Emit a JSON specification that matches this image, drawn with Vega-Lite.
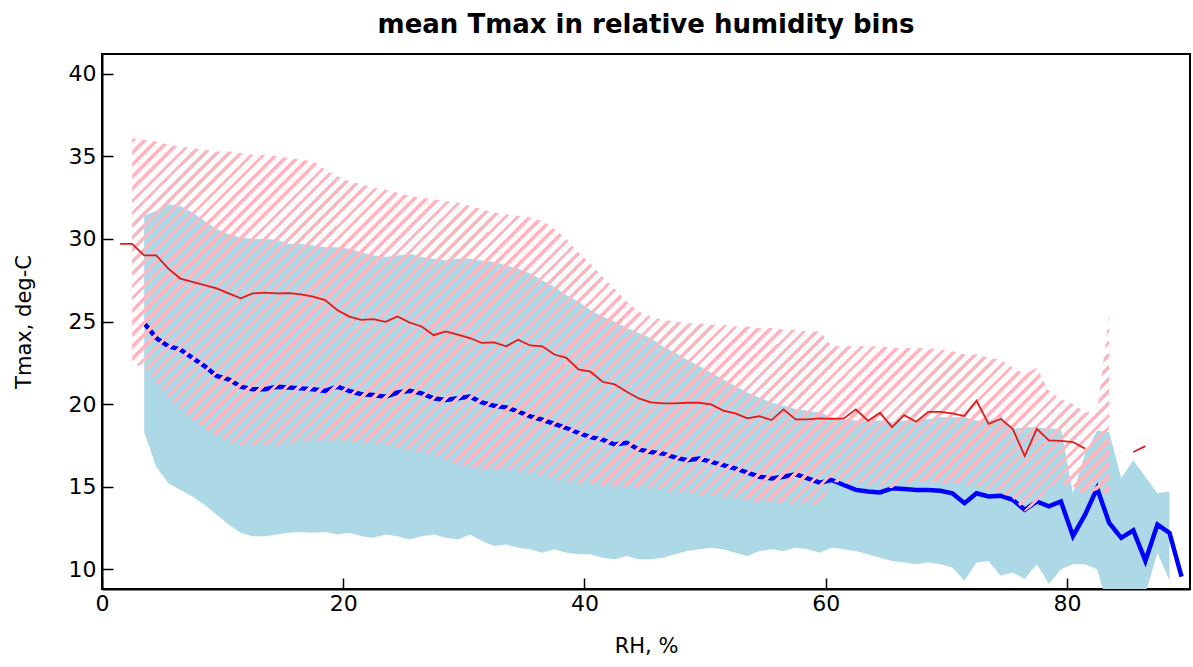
{
"$schema":"https://vega.github.io/schema/vega-lite/v6.json",
"width":1088,"height":535,
"autosize":{"type":"none"},
"padding":{"left":102,"top":54,"right":3,"bottom":78},
"background":"white",
"title":{"text":"mean Tmax in relative humidity bins","fontSize":26,"font":"DejaVu Sans","fontWeight":"bold","color":"black","anchor":"middle","offset":16},
"config":{"font":"DejaVu Sans","view":{"stroke":"black","strokeWidth":2},"axis":{"grid":false}},
"data":{"values":[
{"x":1.5,"rm":29.7,"rlo":null,"rhi":null,"bm":null,"blo":null,"bhi":null},
{"x":2.5,"rm":29.7,"rlo":22.4,"rhi":36.1,"bm":null,"blo":null,"bhi":null},
{"x":3.5,"rm":29.0,"rlo":22.3,"rhi":36.0,"bm":24.9,"blo":18.3,"bhi":31.4},
{"x":4.5,"rm":29.0,"rlo":21.3,"rhi":35.9,"bm":24.0,"blo":16.2,"bhi":31.7},
{"x":5.5,"rm":28.2,"rlo":20.4,"rhi":35.7,"bm":23.5,"blo":15.2,"bhi":32.1},
{"x":6.5,"rm":27.6,"rlo":19.7,"rhi":35.6,"bm":23.3,"blo":14.8,"bhi":32.0},
{"x":7.5,"rm":27.4,"rlo":19.1,"rhi":35.5,"bm":22.8,"blo":14.4,"bhi":31.6},
{"x":8.5,"rm":27.2,"rlo":18.5,"rhi":35.4,"bm":22.3,"blo":13.9,"bhi":31.1},
{"x":9.5,"rm":27.0,"rlo":18.1,"rhi":35.3,"bm":21.7,"blo":13.3,"bhi":30.6},
{"x":10.5,"rm":26.7,"rlo":17.7,"rhi":35.3,"bm":21.5,"blo":12.7,"bhi":30.3},
{"x":11.5,"rm":26.4,"rlo":17.5,"rhi":35.2,"bm":21.05,"blo":12.2,"bhi":30.1},
{"x":12.5,"rm":26.7,"rlo":17.5,"rhi":35.1,"bm":20.9,"blo":12.0,"bhi":30.0},
{"x":13.5,"rm":26.75,"rlo":17.5,"rhi":35.1,"bm":20.9,"blo":12.0,"bhi":30.0},
{"x":14.5,"rm":26.7,"rlo":17.5,"rhi":35.0,"bm":21.05,"blo":12.1,"bhi":29.95},
{"x":15.5,"rm":26.72,"rlo":17.6,"rhi":34.9,"bm":21.0,"blo":12.2,"bhi":29.7},
{"x":16.5,"rm":26.64,"rlo":17.7,"rhi":34.8,"bm":20.95,"blo":12.25,"bhi":29.7},
{"x":17.5,"rm":26.5,"rlo":17.8,"rhi":34.7,"bm":20.9,"blo":12.2,"bhi":29.6},
{"x":18.5,"rm":26.3,"rlo":17.8,"rhi":34.2,"bm":20.8,"blo":12.25,"bhi":29.5},
{"x":19.5,"rm":25.7,"rlo":17.8,"rhi":33.8,"bm":21.05,"blo":12.1,"bhi":29.5},
{"x":20.5,"rm":25.3,"rlo":17.8,"rhi":33.5,"bm":20.8,"blo":12.2,"bhi":29.4},
{"x":21.5,"rm":25.1,"rlo":17.7,"rhi":33.3,"bm":20.6,"blo":12.0,"bhi":29.2},
{"x":22.5,"rm":25.14,"rlo":17.6,"rhi":33.1,"bm":20.55,"blo":11.9,"bhi":29.0},
{"x":23.5,"rm":24.98,"rlo":17.5,"rhi":33.0,"bm":20.45,"blo":12.1,"bhi":28.9},
{"x":24.5,"rm":25.3,"rlo":17.4,"rhi":32.8,"bm":20.7,"blo":12.0,"bhi":29.0},
{"x":25.5,"rm":24.94,"rlo":17.2,"rhi":32.6,"bm":20.8,"blo":11.8,"bhi":29.1},
{"x":26.5,"rm":24.7,"rlo":17.1,"rhi":32.5,"bm":20.65,"blo":12.0,"bhi":28.9},
{"x":27.5,"rm":24.17,"rlo":16.9,"rhi":32.4,"bm":20.35,"blo":12.1,"bhi":28.8},
{"x":28.5,"rm":24.4,"rlo":16.6,"rhi":32.3,"bm":20.25,"blo":11.9,"bhi":28.7},
{"x":29.5,"rm":24.2,"rlo":16.4,"rhi":32.2,"bm":20.35,"blo":11.8,"bhi":28.8},
{"x":30.5,"rm":24.0,"rlo":16.2,"rhi":32.0,"bm":20.45,"blo":12.1,"bhi":28.8},
{"x":31.5,"rm":23.7,"rlo":16.1,"rhi":31.8,"bm":20.1,"blo":11.7,"bhi":28.7},
{"x":32.5,"rm":23.73,"rlo":16.0,"rhi":31.6,"bm":19.9,"blo":11.4,"bhi":28.6},
{"x":33.5,"rm":23.5,"rlo":16.0,"rhi":31.5,"bm":19.8,"blo":11.5,"bhi":28.4},
{"x":34.5,"rm":23.9,"rlo":15.9,"rhi":31.4,"bm":19.55,"blo":11.3,"bhi":28.2},
{"x":35.5,"rm":23.55,"rlo":15.8,"rhi":31.3,"bm":19.25,"blo":11.2,"bhi":27.9},
{"x":36.5,"rm":23.5,"rlo":15.6,"rhi":31.1,"bm":19.05,"blo":11.0,"bhi":27.5},
{"x":37.5,"rm":23.0,"rlo":15.4,"rhi":30.6,"bm":18.8,"blo":11.2,"bhi":27.1},
{"x":38.5,"rm":22.8,"rlo":15.3,"rhi":30.0,"bm":18.55,"blo":11.0,"bhi":26.6},
{"x":39.5,"rm":22.1,"rlo":15.2,"rhi":29.2,"bm":18.25,"blo":10.9,"bhi":26.2},
{"x":40.5,"rm":21.96,"rlo":15.2,"rhi":28.5,"bm":18.0,"blo":10.9,"bhi":25.7},
{"x":41.5,"rm":21.35,"rlo":15.1,"rhi":27.7,"bm":17.85,"blo":10.7,"bhi":25.3},
{"x":42.5,"rm":21.2,"rlo":15.0,"rhi":27.0,"bm":17.55,"blo":10.6,"bhi":25.0},
{"x":43.5,"rm":20.75,"rlo":15.0,"rhi":26.2,"bm":17.65,"blo":10.8,"bhi":24.6},
{"x":44.5,"rm":20.34,"rlo":14.9,"rhi":25.6,"bm":17.25,"blo":10.6,"bhi":24.3},
{"x":45.5,"rm":20.1,"rlo":14.9,"rhi":25.3,"bm":17.1,"blo":10.6,"bhi":24.0},
{"x":46.5,"rm":20.04,"rlo":14.8,"rhi":25.1,"bm":17.0,"blo":10.7,"bhi":23.5},
{"x":47.5,"rm":20.04,"rlo":14.7,"rhi":25.0,"bm":16.77,"blo":10.9,"bhi":23.1},
{"x":48.5,"rm":20.08,"rlo":14.6,"rhi":24.9,"bm":16.6,"blo":11.1,"bhi":22.7},
{"x":49.5,"rm":20.08,"rlo":14.5,"rhi":24.9,"bm":16.7,"blo":11.2,"bhi":22.3},
{"x":50.5,"rm":19.98,"rlo":14.5,"rhi":24.8,"bm":16.5,"blo":11.3,"bhi":21.9},
{"x":51.5,"rm":19.6,"rlo":14.4,"rhi":24.8,"bm":16.3,"blo":11.2,"bhi":21.5},
{"x":52.5,"rm":19.44,"rlo":14.3,"rhi":24.7,"bm":16.1,"blo":11.0,"bhi":21.1},
{"x":53.5,"rm":19.13,"rlo":14.2,"rhi":24.7,"bm":15.85,"blo":10.8,"bhi":20.7},
{"x":54.5,"rm":19.27,"rlo":14.1,"rhi":24.6,"bm":15.6,"blo":11.1,"bhi":20.4},
{"x":55.5,"rm":19.03,"rlo":14.1,"rhi":24.6,"bm":15.5,"blo":11.2,"bhi":20.1},
{"x":56.5,"rm":19.68,"rlo":14.0,"rhi":24.5,"bm":15.6,"blo":11.1,"bhi":19.9},
{"x":57.5,"rm":19.07,"rlo":14.0,"rhi":24.5,"bm":15.75,"blo":11.3,"bhi":19.7},
{"x":58.5,"rm":19.07,"rlo":13.9,"rhi":24.4,"bm":15.5,"blo":11.2,"bhi":19.6},
{"x":59.5,"rm":19.13,"rlo":13.9,"rhi":24.4,"bm":15.24,"blo":11.0,"bhi":19.5},
{"x":60.5,"rm":19.1,"rlo":15.3,"rhi":23.5,"bm":15.4,"blo":11.3,"bhi":19.2},
{"x":61.5,"rm":19.13,"rlo":15.2,"rhi":23.5,"bm":15.1,"blo":11.2,"bhi":19.1},
{"x":62.5,"rm":19.68,"rlo":15.2,"rhi":23.5,"bm":14.8,"blo":11.1,"bhi":19.0},
{"x":63.5,"rm":18.99,"rlo":15.1,"rhi":23.5,"bm":14.7,"blo":10.9,"bhi":19.0},
{"x":64.5,"rm":19.47,"rlo":15.0,"rhi":23.5,"bm":14.65,"blo":10.7,"bhi":19.0},
{"x":65.5,"rm":18.6,"rlo":14.9,"rhi":23.4,"bm":14.9,"blo":10.5,"bhi":18.9},
{"x":66.5,"rm":19.33,"rlo":15.2,"rhi":23.4,"bm":14.85,"blo":10.4,"bhi":19.0},
{"x":67.5,"rm":18.93,"rlo":15.3,"rhi":23.4,"bm":14.8,"blo":10.3,"bhi":19.0},
{"x":68.5,"rm":19.53,"rlo":15.3,"rhi":23.4,"bm":14.8,"blo":10.4,"bhi":19.1},
{"x":69.5,"rm":19.53,"rlo":15.2,"rhi":23.3,"bm":14.75,"blo":10.3,"bhi":19.2},
{"x":70.5,"rm":19.43,"rlo":15.2,"rhi":23.2,"bm":14.6,"blo":10.1,"bhi":19.2},
{"x":71.5,"rm":19.27,"rlo":15.1,"rhi":23.0,"bm":14.0,"blo":9.3,"bhi":19.2},
{"x":72.5,"rm":20.2,"rlo":15.0,"rhi":23.0,"bm":14.6,"blo":10.4,"bhi":19.0},
{"x":73.5,"rm":18.8,"rlo":14.8,"rhi":22.8,"bm":14.4,"blo":10.5,"bhi":19.0},
{"x":74.5,"rm":19.1,"rlo":14.6,"rhi":22.7,"bm":14.45,"blo":9.6,"bhi":19.3},
{"x":75.5,"rm":18.5,"rlo":14.3,"rhi":22.2,"bm":14.2,"blo":9.8,"bhi":18.5},
{"x":76.5,"rm":16.85,"rlo":13.5,"rhi":21.8,"bm":13.6,"blo":9.4,"bhi":18.6},
{"x":77.5,"rm":18.5,"rlo":14.0,"rhi":22.2,"bm":14.1,"blo":10.3,"bhi":18.6},
{"x":78.5,"rm":17.8,"rlo":15.0,"rhi":20.8,"bm":13.8,"blo":9.1,"bhi":18.5},
{"x":79.5,"rm":17.77,"rlo":15.2,"rhi":20.3,"bm":14.1,"blo":10.0,"bhi":18.5},
{"x":80.5,"rm":17.7,"rlo":15.0,"rhi":20.0,"bm":12.0,"blo":10.3,"bhi":14.6},
{"x":81.5,"rm":17.3,"rlo":14.5,"rhi":19.5,"bm":13.3,"blo":10.3,"bhi":17.0},
{"x":82.5,"rm":null,"rlo":14.8,"rhi":19.5,"bm":14.9,"blo":10.0,"bhi":18.4},
{"x":83.5,"rm":null,"rlo":14.5,"rhi":25.5,"bm":12.8,"blo":7.5,"bhi":18.3},
{"x":84.5,"rm":null,"rlo":null,"rhi":null,"bm":11.9,"blo":7.0,"bhi":15.5},
{"x":85.5,"rm":17.1,"rlo":null,"rhi":null,"bm":12.35,"blo":7.0,"bhi":16.6},
{"x":86.5,"rm":17.45,"rlo":null,"rhi":null,"bm":10.5,"blo":8.5,"bhi":15.6},
{"x":87.5,"rm":null,"rlo":null,"rhi":null,"bm":12.7,"blo":11.0,"bhi":14.6},
{"x":88.5,"rm":null,"rlo":null,"rhi":null,"bm":12.2,"blo":9.3,"bhi":14.7},
{"x":89.5,"rm":null,"rlo":null,"rhi":null,"bm":9.55,"blo":null,"bhi":null}
]},
"encoding":{
"x":{"field":"x","type":"quantitative","scale":{"domain":[0,90.2],"nice":false,"zero":false},
"axis":{"title":"RH, %","values":[0,20,40,60,80],"tickSize":-11,"tickWidth":1.5,"tickColor":"black","domainColor":"black","domainWidth":2,"labelFont":"DejaVu Sans","labelFontSize":22,"labelColor":"black","labelPadding":15,"labelFlush":false,"labelOverlap":false,"titleFont":"DejaVu Sans","titleFontSize":21,"titleFontWeight":"normal","titleColor":"black","titlePadding":21}}
},
"layer":[
{"mark":{"type":"area","color":"#ADD8E6","clip":true,"invalid":"break-paths-show-domains"},
 "encoding":{"y":{"field":"bhi","type":"quantitative","scale":{"domain":[8.8,41.2],"nice":false,"zero":false},
 "axis":{"title":"Tmax, deg-C","values":[10,15,20,25,30,35,40],"tickSize":-11,"tickWidth":1.5,"tickColor":"black","domainColor":"black","domainWidth":2,"labelFont":"DejaVu Sans","labelFontSize":22,"labelColor":"black","labelPadding":17,"labelFlush":false,"labelOverlap":false,"titleFont":"DejaVu Sans","titleFontSize":21,"titleFontWeight":"normal","titleColor":"black","titlePadding":34}},
 "y2":{"field":"blo"}}},
{"mark":{"type":"line","color":"blue","strokeWidth":4.5,"clip":true,"invalid":"break-paths-show-domains"},
 "encoding":{"y":{"field":"bm","type":"quantitative"}}},
{"mark":{"type":"area","clip":true,"invalid":"break-paths-show-domains","color":{"gradient":"linear","x1":0,"y1":0,"x2":1.206,"y2":0.461,"stops":[
{"offset":0,"color":"transparent"},{"offset":0,"color":"#ffb6c1"},{"offset":0.0035,"color":"#ffb6c1"},{"offset":0.0035,"color":"transparent"},
{"offset":0.009,"color":"transparent"},{"offset":0.009,"color":"#ffb6c1"},{"offset":0.0125,"color":"#ffb6c1"},{"offset":0.0125,"color":"transparent"},
{"offset":0.018,"color":"transparent"},{"offset":0.018,"color":"#ffb6c1"},{"offset":0.0215,"color":"#ffb6c1"},{"offset":0.0215,"color":"transparent"},
{"offset":0.027,"color":"transparent"},{"offset":0.027,"color":"#ffb6c1"},{"offset":0.0305,"color":"#ffb6c1"},{"offset":0.0305,"color":"transparent"},
{"offset":0.036,"color":"transparent"},{"offset":0.036,"color":"#ffb6c1"},{"offset":0.0395,"color":"#ffb6c1"},{"offset":0.0395,"color":"transparent"},
{"offset":0.045,"color":"transparent"},{"offset":0.045,"color":"#ffb6c1"},{"offset":0.0485,"color":"#ffb6c1"},{"offset":0.0485,"color":"transparent"},
{"offset":0.054,"color":"transparent"},{"offset":0.054,"color":"#ffb6c1"},{"offset":0.0575,"color":"#ffb6c1"},{"offset":0.0575,"color":"transparent"},
{"offset":0.063,"color":"transparent"},{"offset":0.063,"color":"#ffb6c1"},{"offset":0.0665,"color":"#ffb6c1"},{"offset":0.0665,"color":"transparent"},
{"offset":0.072,"color":"transparent"},{"offset":0.072,"color":"#ffb6c1"},{"offset":0.0755,"color":"#ffb6c1"},{"offset":0.0755,"color":"transparent"},
{"offset":0.081,"color":"transparent"},{"offset":0.081,"color":"#ffb6c1"},{"offset":0.0845,"color":"#ffb6c1"},{"offset":0.0845,"color":"transparent"},
{"offset":0.09,"color":"transparent"},{"offset":0.09,"color":"#ffb6c1"},{"offset":0.0935,"color":"#ffb6c1"},{"offset":0.0935,"color":"transparent"},
{"offset":0.099,"color":"transparent"},{"offset":0.099,"color":"#ffb6c1"},{"offset":0.1025,"color":"#ffb6c1"},{"offset":0.1025,"color":"transparent"},
{"offset":0.108,"color":"transparent"},{"offset":0.108,"color":"#ffb6c1"},{"offset":0.1115,"color":"#ffb6c1"},{"offset":0.1115,"color":"transparent"},
{"offset":0.117,"color":"transparent"},{"offset":0.117,"color":"#ffb6c1"},{"offset":0.1205,"color":"#ffb6c1"},{"offset":0.1205,"color":"transparent"},
{"offset":0.126,"color":"transparent"},{"offset":0.126,"color":"#ffb6c1"},{"offset":0.1295,"color":"#ffb6c1"},{"offset":0.1295,"color":"transparent"},
{"offset":0.135,"color":"transparent"},{"offset":0.135,"color":"#ffb6c1"},{"offset":0.1385,"color":"#ffb6c1"},{"offset":0.1385,"color":"transparent"},
{"offset":0.144,"color":"transparent"},{"offset":0.144,"color":"#ffb6c1"},{"offset":0.1475,"color":"#ffb6c1"},{"offset":0.1475,"color":"transparent"},
{"offset":0.153,"color":"transparent"},{"offset":0.153,"color":"#ffb6c1"},{"offset":0.1565,"color":"#ffb6c1"},{"offset":0.1565,"color":"transparent"},
{"offset":0.162,"color":"transparent"},{"offset":0.162,"color":"#ffb6c1"},{"offset":0.1655,"color":"#ffb6c1"},{"offset":0.1655,"color":"transparent"},
{"offset":0.171,"color":"transparent"},{"offset":0.171,"color":"#ffb6c1"},{"offset":0.1745,"color":"#ffb6c1"},{"offset":0.1745,"color":"transparent"},
{"offset":0.18,"color":"transparent"},{"offset":0.18,"color":"#ffb6c1"},{"offset":0.1835,"color":"#ffb6c1"},{"offset":0.1835,"color":"transparent"},
{"offset":0.189,"color":"transparent"},{"offset":0.189,"color":"#ffb6c1"},{"offset":0.1925,"color":"#ffb6c1"},{"offset":0.1925,"color":"transparent"},
{"offset":0.198,"color":"transparent"},{"offset":0.198,"color":"#ffb6c1"},{"offset":0.2015,"color":"#ffb6c1"},{"offset":0.2015,"color":"transparent"},
{"offset":0.207,"color":"transparent"},{"offset":0.207,"color":"#ffb6c1"},{"offset":0.2105,"color":"#ffb6c1"},{"offset":0.2105,"color":"transparent"},
{"offset":0.216,"color":"transparent"},{"offset":0.216,"color":"#ffb6c1"},{"offset":0.2195,"color":"#ffb6c1"},{"offset":0.2195,"color":"transparent"},
{"offset":0.225,"color":"transparent"},{"offset":0.225,"color":"#ffb6c1"},{"offset":0.2285,"color":"#ffb6c1"},{"offset":0.2285,"color":"transparent"},
{"offset":0.234,"color":"transparent"},{"offset":0.234,"color":"#ffb6c1"},{"offset":0.2375,"color":"#ffb6c1"},{"offset":0.2375,"color":"transparent"},
{"offset":0.243,"color":"transparent"},{"offset":0.243,"color":"#ffb6c1"},{"offset":0.2465,"color":"#ffb6c1"},{"offset":0.2465,"color":"transparent"},
{"offset":0.252,"color":"transparent"},{"offset":0.252,"color":"#ffb6c1"},{"offset":0.2555,"color":"#ffb6c1"},{"offset":0.2555,"color":"transparent"},
{"offset":0.261,"color":"transparent"},{"offset":0.261,"color":"#ffb6c1"},{"offset":0.2645,"color":"#ffb6c1"},{"offset":0.2645,"color":"transparent"},
{"offset":0.27,"color":"transparent"},{"offset":0.27,"color":"#ffb6c1"},{"offset":0.2735,"color":"#ffb6c1"},{"offset":0.2735,"color":"transparent"},
{"offset":0.279,"color":"transparent"},{"offset":0.279,"color":"#ffb6c1"},{"offset":0.2825,"color":"#ffb6c1"},{"offset":0.2825,"color":"transparent"},
{"offset":0.288,"color":"transparent"},{"offset":0.288,"color":"#ffb6c1"},{"offset":0.2915,"color":"#ffb6c1"},{"offset":0.2915,"color":"transparent"},
{"offset":0.297,"color":"transparent"},{"offset":0.297,"color":"#ffb6c1"},{"offset":0.3005,"color":"#ffb6c1"},{"offset":0.3005,"color":"transparent"},
{"offset":0.306,"color":"transparent"},{"offset":0.306,"color":"#ffb6c1"},{"offset":0.3095,"color":"#ffb6c1"},{"offset":0.3095,"color":"transparent"},
{"offset":0.315,"color":"transparent"},{"offset":0.315,"color":"#ffb6c1"},{"offset":0.3185,"color":"#ffb6c1"},{"offset":0.3185,"color":"transparent"},
{"offset":0.324,"color":"transparent"},{"offset":0.324,"color":"#ffb6c1"},{"offset":0.3275,"color":"#ffb6c1"},{"offset":0.3275,"color":"transparent"},
{"offset":0.333,"color":"transparent"},{"offset":0.333,"color":"#ffb6c1"},{"offset":0.3365,"color":"#ffb6c1"},{"offset":0.3365,"color":"transparent"},
{"offset":0.342,"color":"transparent"},{"offset":0.342,"color":"#ffb6c1"},{"offset":0.3455,"color":"#ffb6c1"},{"offset":0.3455,"color":"transparent"},
{"offset":0.351,"color":"transparent"},{"offset":0.351,"color":"#ffb6c1"},{"offset":0.3545,"color":"#ffb6c1"},{"offset":0.3545,"color":"transparent"},
{"offset":0.36,"color":"transparent"},{"offset":0.36,"color":"#ffb6c1"},{"offset":0.3635,"color":"#ffb6c1"},{"offset":0.3635,"color":"transparent"},
{"offset":0.369,"color":"transparent"},{"offset":0.369,"color":"#ffb6c1"},{"offset":0.3725,"color":"#ffb6c1"},{"offset":0.3725,"color":"transparent"},
{"offset":0.378,"color":"transparent"},{"offset":0.378,"color":"#ffb6c1"},{"offset":0.3815,"color":"#ffb6c1"},{"offset":0.3815,"color":"transparent"},
{"offset":0.387,"color":"transparent"},{"offset":0.387,"color":"#ffb6c1"},{"offset":0.3905,"color":"#ffb6c1"},{"offset":0.3905,"color":"transparent"},
{"offset":0.396,"color":"transparent"},{"offset":0.396,"color":"#ffb6c1"},{"offset":0.3995,"color":"#ffb6c1"},{"offset":0.3995,"color":"transparent"},
{"offset":0.405,"color":"transparent"},{"offset":0.405,"color":"#ffb6c1"},{"offset":0.4085,"color":"#ffb6c1"},{"offset":0.4085,"color":"transparent"},
{"offset":0.414,"color":"transparent"},{"offset":0.414,"color":"#ffb6c1"},{"offset":0.4175,"color":"#ffb6c1"},{"offset":0.4175,"color":"transparent"},
{"offset":0.423,"color":"transparent"},{"offset":0.423,"color":"#ffb6c1"},{"offset":0.4265,"color":"#ffb6c1"},{"offset":0.4265,"color":"transparent"},
{"offset":0.432,"color":"transparent"},{"offset":0.432,"color":"#ffb6c1"},{"offset":0.4355,"color":"#ffb6c1"},{"offset":0.4355,"color":"transparent"},
{"offset":0.441,"color":"transparent"},{"offset":0.441,"color":"#ffb6c1"},{"offset":0.4445,"color":"#ffb6c1"},{"offset":0.4445,"color":"transparent"},
{"offset":0.45,"color":"transparent"},{"offset":0.45,"color":"#ffb6c1"},{"offset":0.4535,"color":"#ffb6c1"},{"offset":0.4535,"color":"transparent"},
{"offset":0.459,"color":"transparent"},{"offset":0.459,"color":"#ffb6c1"},{"offset":0.4625,"color":"#ffb6c1"},{"offset":0.4625,"color":"transparent"},
{"offset":0.468,"color":"transparent"},{"offset":0.468,"color":"#ffb6c1"},{"offset":0.4715,"color":"#ffb6c1"},{"offset":0.4715,"color":"transparent"},
{"offset":0.477,"color":"transparent"},{"offset":0.477,"color":"#ffb6c1"},{"offset":0.4805,"color":"#ffb6c1"},{"offset":0.4805,"color":"transparent"},
{"offset":0.486,"color":"transparent"},{"offset":0.486,"color":"#ffb6c1"},{"offset":0.4895,"color":"#ffb6c1"},{"offset":0.4895,"color":"transparent"},
{"offset":0.495,"color":"transparent"},{"offset":0.495,"color":"#ffb6c1"},{"offset":0.4985,"color":"#ffb6c1"},{"offset":0.4985,"color":"transparent"},
{"offset":0.504,"color":"transparent"},{"offset":0.504,"color":"#ffb6c1"},{"offset":0.5075,"color":"#ffb6c1"},{"offset":0.5075,"color":"transparent"},
{"offset":0.513,"color":"transparent"},{"offset":0.513,"color":"#ffb6c1"},{"offset":0.5165,"color":"#ffb6c1"},{"offset":0.5165,"color":"transparent"},
{"offset":0.522,"color":"transparent"},{"offset":0.522,"color":"#ffb6c1"},{"offset":0.5255,"color":"#ffb6c1"},{"offset":0.5255,"color":"transparent"},
{"offset":0.531,"color":"transparent"},{"offset":0.531,"color":"#ffb6c1"},{"offset":0.5345,"color":"#ffb6c1"},{"offset":0.5345,"color":"transparent"},
{"offset":0.54,"color":"transparent"},{"offset":0.54,"color":"#ffb6c1"},{"offset":0.5435,"color":"#ffb6c1"},{"offset":0.5435,"color":"transparent"},
{"offset":0.549,"color":"transparent"},{"offset":0.549,"color":"#ffb6c1"},{"offset":0.5525,"color":"#ffb6c1"},{"offset":0.5525,"color":"transparent"},
{"offset":0.558,"color":"transparent"},{"offset":0.558,"color":"#ffb6c1"},{"offset":0.5615,"color":"#ffb6c1"},{"offset":0.5615,"color":"transparent"},
{"offset":0.567,"color":"transparent"},{"offset":0.567,"color":"#ffb6c1"},{"offset":0.5705,"color":"#ffb6c1"},{"offset":0.5705,"color":"transparent"},
{"offset":0.576,"color":"transparent"},{"offset":0.576,"color":"#ffb6c1"},{"offset":0.5795,"color":"#ffb6c1"},{"offset":0.5795,"color":"transparent"},
{"offset":0.585,"color":"transparent"},{"offset":0.585,"color":"#ffb6c1"},{"offset":0.5885,"color":"#ffb6c1"},{"offset":0.5885,"color":"transparent"},
{"offset":0.594,"color":"transparent"},{"offset":0.594,"color":"#ffb6c1"},{"offset":0.5975,"color":"#ffb6c1"},{"offset":0.5975,"color":"transparent"},
{"offset":0.603,"color":"transparent"},{"offset":0.603,"color":"#ffb6c1"},{"offset":0.6065,"color":"#ffb6c1"},{"offset":0.6065,"color":"transparent"},
{"offset":0.612,"color":"transparent"},{"offset":0.612,"color":"#ffb6c1"},{"offset":0.6155,"color":"#ffb6c1"},{"offset":0.6155,"color":"transparent"},
{"offset":0.621,"color":"transparent"},{"offset":0.621,"color":"#ffb6c1"},{"offset":0.6245,"color":"#ffb6c1"},{"offset":0.6245,"color":"transparent"},
{"offset":0.63,"color":"transparent"},{"offset":0.63,"color":"#ffb6c1"},{"offset":0.6335,"color":"#ffb6c1"},{"offset":0.6335,"color":"transparent"},
{"offset":0.639,"color":"transparent"},{"offset":0.639,"color":"#ffb6c1"},{"offset":0.6425,"color":"#ffb6c1"},{"offset":0.6425,"color":"transparent"},
{"offset":0.648,"color":"transparent"},{"offset":0.648,"color":"#ffb6c1"},{"offset":0.6515,"color":"#ffb6c1"},{"offset":0.6515,"color":"transparent"},
{"offset":0.657,"color":"transparent"},{"offset":0.657,"color":"#ffb6c1"},{"offset":0.6605,"color":"#ffb6c1"},{"offset":0.6605,"color":"transparent"},
{"offset":0.666,"color":"transparent"},{"offset":0.666,"color":"#ffb6c1"},{"offset":0.6695,"color":"#ffb6c1"},{"offset":0.6695,"color":"transparent"},
{"offset":0.675,"color":"transparent"},{"offset":0.675,"color":"#ffb6c1"},{"offset":0.6785,"color":"#ffb6c1"},{"offset":0.6785,"color":"transparent"},
{"offset":0.684,"color":"transparent"},{"offset":0.684,"color":"#ffb6c1"},{"offset":0.6875,"color":"#ffb6c1"},{"offset":0.6875,"color":"transparent"},
{"offset":0.693,"color":"transparent"},{"offset":0.693,"color":"#ffb6c1"},{"offset":0.6965,"color":"#ffb6c1"},{"offset":0.6965,"color":"transparent"},
{"offset":0.702,"color":"transparent"},{"offset":0.702,"color":"#ffb6c1"},{"offset":0.7055,"color":"#ffb6c1"},{"offset":0.7055,"color":"transparent"},
{"offset":0.711,"color":"transparent"},{"offset":0.711,"color":"#ffb6c1"},{"offset":0.7145,"color":"#ffb6c1"},{"offset":0.7145,"color":"transparent"},
{"offset":0.72,"color":"transparent"},{"offset":0.72,"color":"#ffb6c1"},{"offset":0.7235,"color":"#ffb6c1"},{"offset":0.7235,"color":"transparent"},
{"offset":0.729,"color":"transparent"},{"offset":0.729,"color":"#ffb6c1"},{"offset":0.7325,"color":"#ffb6c1"},{"offset":0.7325,"color":"transparent"},
{"offset":0.738,"color":"transparent"},{"offset":0.738,"color":"#ffb6c1"},{"offset":0.7415,"color":"#ffb6c1"},{"offset":0.7415,"color":"transparent"},
{"offset":0.747,"color":"transparent"},{"offset":0.747,"color":"#ffb6c1"},{"offset":0.7505,"color":"#ffb6c1"},{"offset":0.7505,"color":"transparent"},
{"offset":0.756,"color":"transparent"},{"offset":0.756,"color":"#ffb6c1"},{"offset":0.7595,"color":"#ffb6c1"},{"offset":0.7595,"color":"transparent"},
{"offset":0.765,"color":"transparent"},{"offset":0.765,"color":"#ffb6c1"},{"offset":0.7685,"color":"#ffb6c1"},{"offset":0.7685,"color":"transparent"},
{"offset":0.774,"color":"transparent"},{"offset":0.774,"color":"#ffb6c1"},{"offset":0.7775,"color":"#ffb6c1"},{"offset":0.7775,"color":"transparent"},
{"offset":0.783,"color":"transparent"},{"offset":0.783,"color":"#ffb6c1"},{"offset":0.7865,"color":"#ffb6c1"},{"offset":0.7865,"color":"transparent"},
{"offset":0.792,"color":"transparent"},{"offset":0.792,"color":"#ffb6c1"},{"offset":0.7955,"color":"#ffb6c1"},{"offset":0.7955,"color":"transparent"},
{"offset":0.801,"color":"transparent"},{"offset":0.801,"color":"#ffb6c1"},{"offset":0.8045,"color":"#ffb6c1"},{"offset":0.8045,"color":"transparent"},
{"offset":0.81,"color":"transparent"},{"offset":0.81,"color":"#ffb6c1"},{"offset":0.8135,"color":"#ffb6c1"},{"offset":0.8135,"color":"transparent"},
{"offset":0.819,"color":"transparent"},{"offset":0.819,"color":"#ffb6c1"},{"offset":0.8225,"color":"#ffb6c1"},{"offset":0.8225,"color":"transparent"},
{"offset":0.828,"color":"transparent"},{"offset":0.828,"color":"#ffb6c1"},{"offset":0.8315,"color":"#ffb6c1"},{"offset":0.8315,"color":"transparent"},
{"offset":0.837,"color":"transparent"},{"offset":0.837,"color":"#ffb6c1"},{"offset":0.8405,"color":"#ffb6c1"},{"offset":0.8405,"color":"transparent"},
{"offset":0.846,"color":"transparent"},{"offset":0.846,"color":"#ffb6c1"},{"offset":0.8495,"color":"#ffb6c1"},{"offset":0.8495,"color":"transparent"},
{"offset":0.855,"color":"transparent"},{"offset":0.855,"color":"#ffb6c1"},{"offset":0.8585,"color":"#ffb6c1"},{"offset":0.8585,"color":"transparent"},
{"offset":0.864,"color":"transparent"},{"offset":0.864,"color":"#ffb6c1"},{"offset":0.8675,"color":"#ffb6c1"},{"offset":0.8675,"color":"transparent"},
{"offset":0.873,"color":"transparent"},{"offset":0.873,"color":"#ffb6c1"},{"offset":0.8765,"color":"#ffb6c1"},{"offset":0.8765,"color":"transparent"},
{"offset":0.882,"color":"transparent"},{"offset":0.882,"color":"#ffb6c1"},{"offset":0.8855,"color":"#ffb6c1"},{"offset":0.8855,"color":"transparent"},
{"offset":0.891,"color":"transparent"},{"offset":0.891,"color":"#ffb6c1"},{"offset":0.8945,"color":"#ffb6c1"},{"offset":0.8945,"color":"transparent"},
{"offset":0.9,"color":"transparent"},{"offset":0.9,"color":"#ffb6c1"},{"offset":0.9035,"color":"#ffb6c1"},{"offset":0.9035,"color":"transparent"},
{"offset":0.909,"color":"transparent"},{"offset":0.909,"color":"#ffb6c1"},{"offset":0.9125,"color":"#ffb6c1"},{"offset":0.9125,"color":"transparent"},
{"offset":0.918,"color":"transparent"},{"offset":0.918,"color":"#ffb6c1"},{"offset":0.9215,"color":"#ffb6c1"},{"offset":0.9215,"color":"transparent"},
{"offset":0.927,"color":"transparent"},{"offset":0.927,"color":"#ffb6c1"},{"offset":0.9305,"color":"#ffb6c1"},{"offset":0.9305,"color":"transparent"},
{"offset":0.936,"color":"transparent"},{"offset":0.936,"color":"#ffb6c1"},{"offset":0.9395,"color":"#ffb6c1"},{"offset":0.9395,"color":"transparent"},
{"offset":0.945,"color":"transparent"},{"offset":0.945,"color":"#ffb6c1"},{"offset":0.9485,"color":"#ffb6c1"},{"offset":0.9485,"color":"transparent"},
{"offset":0.954,"color":"transparent"},{"offset":0.954,"color":"#ffb6c1"},{"offset":0.9575,"color":"#ffb6c1"},{"offset":0.9575,"color":"transparent"},
{"offset":0.963,"color":"transparent"},{"offset":0.963,"color":"#ffb6c1"},{"offset":0.9665,"color":"#ffb6c1"},{"offset":0.9665,"color":"transparent"},
{"offset":0.972,"color":"transparent"},{"offset":0.972,"color":"#ffb6c1"},{"offset":0.9755,"color":"#ffb6c1"},{"offset":0.9755,"color":"transparent"},
{"offset":0.981,"color":"transparent"},{"offset":0.981,"color":"#ffb6c1"},{"offset":0.9845,"color":"#ffb6c1"},{"offset":0.9845,"color":"transparent"},
{"offset":0.99,"color":"transparent"},{"offset":0.99,"color":"#ffb6c1"},{"offset":0.9935,"color":"#ffb6c1"},{"offset":0.9935,"color":"transparent"},
{"offset":1,"color":"transparent"}
]}},
 "encoding":{"y":{"field":"rhi","type":"quantitative"},"y2":{"field":"rlo"}}},
{"mark":{"type":"line","color":"#e01b1b","strokeWidth":1.8,"clip":true,"invalid":"break-paths-show-domains"},
 "encoding":{"y":{"field":"rm","type":"quantitative"}}}
]
}
